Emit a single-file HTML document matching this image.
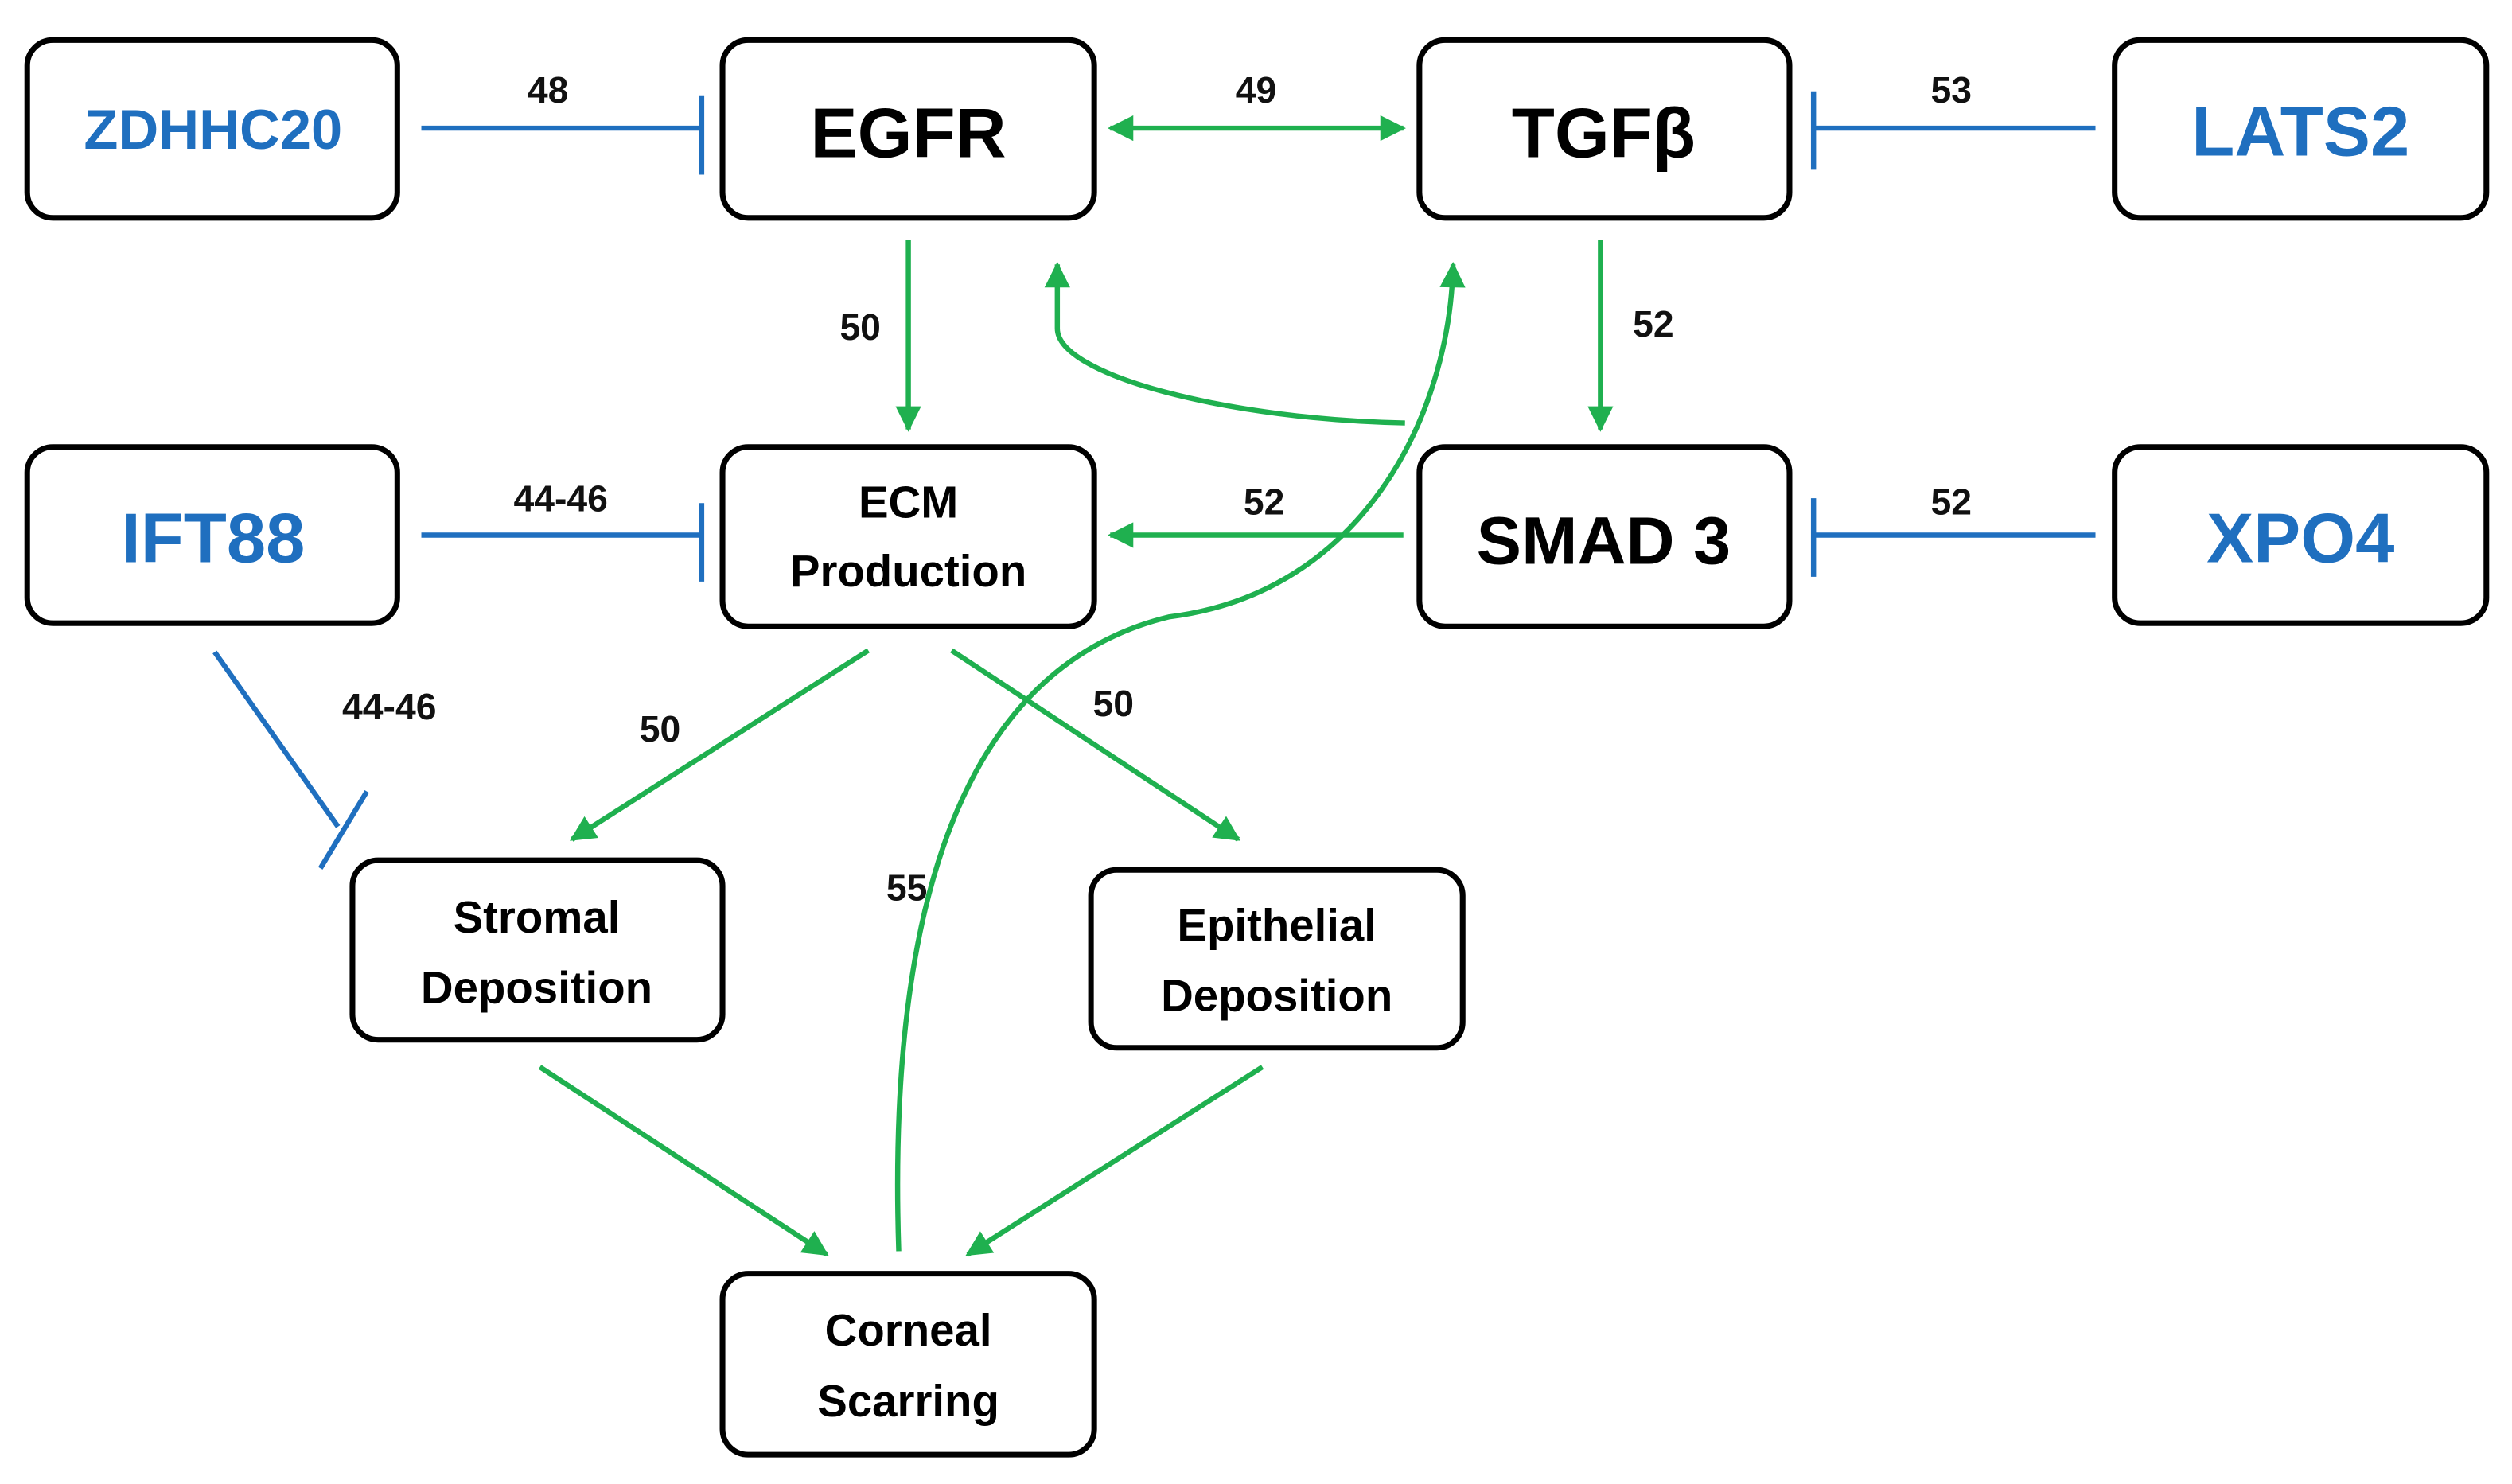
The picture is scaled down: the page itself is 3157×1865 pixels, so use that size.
<!DOCTYPE html>
<html><head><meta charset="utf-8"><style>
html,body{margin:0;padding:0;background:#fff;}
svg{display:block;}
text{font-family:"Liberation Sans",sans-serif;font-weight:bold;text-anchor:middle;}
</style></head><body>
<svg width="3157" height="1865" viewBox="0 0 1568 926.3" preserveAspectRatio="none" xmlns="http://www.w3.org/2000/svg">
<defs>
<marker id="a" viewBox="0 0 10 10" refX="9" refY="5" markerWidth="5.5" markerHeight="5" orient="auto-start-reverse" markerUnits="strokeWidth"><path d="M0,0 L10,5 L0,10 z" fill="#1fb04f"/></marker>
</defs>
<g fill="#fff" stroke="#000" stroke-width="3.5">
<rect x="17" y="25" width="231" height="111" rx="16"/>
<rect x="451" y="25" width="232" height="111" rx="16"/>
<rect x="886" y="25" width="231" height="111" rx="16"/>
<rect x="1320" y="25" width="232" height="111" rx="16"/>
<rect x="17" y="279" width="231" height="110" rx="16"/>
<rect x="451" y="279" width="232" height="112" rx="16"/>
<rect x="886" y="279" width="231" height="112" rx="16"/>
<rect x="1320" y="279" width="232" height="110" rx="16"/>
<rect x="220" y="537" width="231" height="112" rx="16"/>
<rect x="681" y="543" width="232" height="111" rx="16"/>
<rect x="451" y="795" width="232" height="113" rx="16"/>
</g>
<g stroke="#1f6fbf" stroke-width="3.2" fill="none">
<path d="M263,80 H438 M438,60 V109"/>
<path d="M1308,80 H1132 M1132,57 V106"/>
<path d="M263,334 H438 M438,314 V363"/>
<path d="M1308,334 H1132 M1132,311 V360"/>
<path d="M134,407 L211,516 M229,494 L200,542"/>
</g>
<g stroke="#1fb04f" stroke-width="3.2" fill="none" marker-end="url(#a)">
<path d="M693,80 H876" marker-start="url(#a)"/>
<path d="M567,150 V268"/>
<path d="M999,150 V268"/>
<path d="M876,334 H693"/>
<path d="M542,406 L357,524"/>
<path d="M594,406 L773,524"/>
<path d="M337,666 L516,783"/>
<path d="M788,666 L604,783"/>
<path d="M561,781 C555,600 585,420 730,385 C850,370 905,260 907,165"/>
<path d="M877,264 C770,262 660,235 660,205 L660,165"/>
</g>
<g font-size="23" fill="#111">
<text x="342" y="64">48</text>
<text x="784" y="64">49</text>
<text x="1218" y="64">53</text>
<text x="537" y="212">50</text>
<text x="1032" y="210">52</text>
<text x="350" y="319">44-46</text>
<text x="789" y="321">52</text>
<text x="1218" y="321">52</text>
<text x="243" y="449">44-46</text>
<text x="412" y="463">50</text>
<text x="695" y="447">50</text>
<text x="566" y="562">55</text>
</g>
<g fill="#1f6fbf">
<text x="133" y="93" font-size="35">ZDHHC20</text>
<text x="1436" y="97" font-size="44">LATS2</text>
<text x="133" y="351" font-size="44">IFT88</text>
<text x="1436" y="351" font-size="44">XPO4</text>
</g>
<g fill="#000">
<text x="567" y="98" font-size="44">EGFR</text>
<text x="1001" y="98" font-size="44">TGFβ</text>
<text x="1001" y="352" font-size="42">SMAD 3</text>
<g font-size="28">
<text x="567" y="323">ECM</text>
<text x="567" y="366">Production</text>
<text x="335" y="582">Stromal</text>
<text x="335" y="626">Deposition</text>
<text x="797" y="587">Epithelial</text>
<text x="797" y="631">Deposition</text>
<text x="567" y="840">Corneal</text>
<text x="567" y="884">Scarring</text>
</g>
</g>
</svg>
</body></html>
